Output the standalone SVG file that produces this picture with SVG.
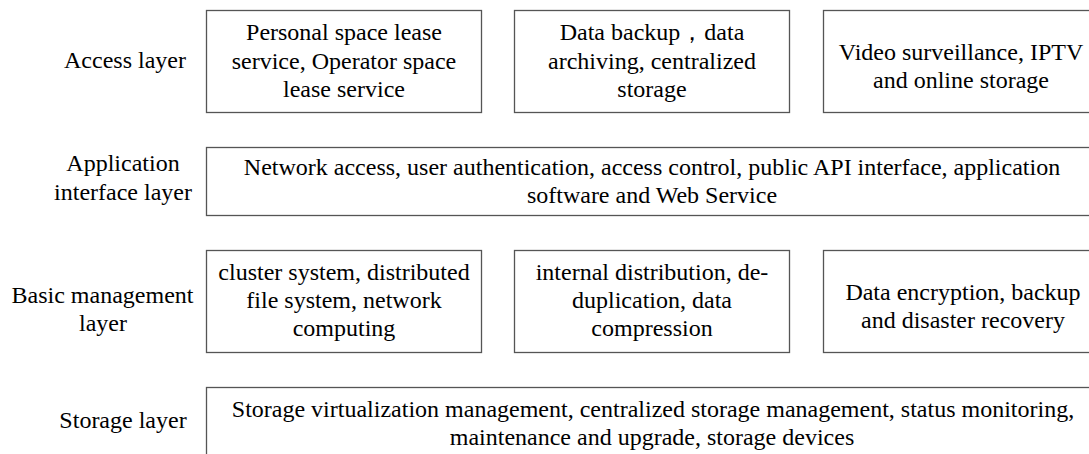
<svg xmlns="http://www.w3.org/2000/svg" width="1089" height="454" viewBox="0 0 1089 454">
<style>
.bx{fill:#fff;stroke:#555;stroke-width:1.3}
.t{font-family:'Liberation Serif','Times New Roman','DejaVu Serif',serif;font-size:24px;fill:#000;text-anchor:middle}
</style>
<rect width="1089" height="454" fill="#fff"/>
<g id="labels" class="t">
<text x="125" y="68">Access layer</text>
<text x="123" y="171">Application</text>
<text x="123" y="200">interface layer</text>
<text x="102.5" y="303">Basic management</text>
<text x="103" y="331">layer</text>
<text x="123" y="428">Storage layer</text>
</g>
<g id="a1" class="t"><rect class="bx" x="206.5" y="10.5" width="275" height="102"/>
<text x="344" y="40">Personal space lease</text><text x="344" y="68.5">service, Operator space</text><text x="344" y="97">lease service</text></g>
<g id="a2" class="t"><rect class="bx" x="514.5" y="10.5" width="275" height="102"/>
<text x="652" y="40">Data backup，data</text><text x="652" y="68.5">archiving, centralized</text><text x="652" y="97">storage</text></g>
<g id="a3" class="t"><rect class="bx" x="823.5" y="10.5" width="300" height="102"/>
<text x="961" y="60">Video surveillance, IPTV</text><text x="961" y="88">and online storage</text></g>
<g id="app" class="t"><rect class="bx" x="206.5" y="147.5" width="920" height="68"/>
<text x="652" y="175">Network access, user authentication, access control, public API interface, application</text><text x="652" y="203">software and Web Service</text></g>
<g id="b1" class="t"><rect class="bx" x="206.5" y="250.5" width="275" height="102"/>
<text x="344" y="280">cluster system, distributed</text><text x="344" y="308">file system, network</text><text x="344" y="336">computing</text></g>
<g id="b2" class="t"><rect class="bx" x="514.5" y="250.5" width="275" height="102"/>
<text x="652" y="280">internal distribution, de-</text><text x="652" y="308">duplication, data</text><text x="652" y="336">compression</text></g>
<g id="b3" class="t"><rect class="bx" x="823.5" y="250.5" width="300" height="102"/>
<text x="963" y="300">Data encryption, backup</text><text x="963" y="328">and disaster recovery</text></g>
<g id="s" class="t"><rect class="bx" x="206.5" y="387.5" width="920" height="100"/>
<text x="653" y="417">Storage virtualization management, centralized storage management, status monitoring,</text><text x="652" y="445">maintenance and upgrade, storage devices</text></g>
<g id="connectors"/>
</svg>
